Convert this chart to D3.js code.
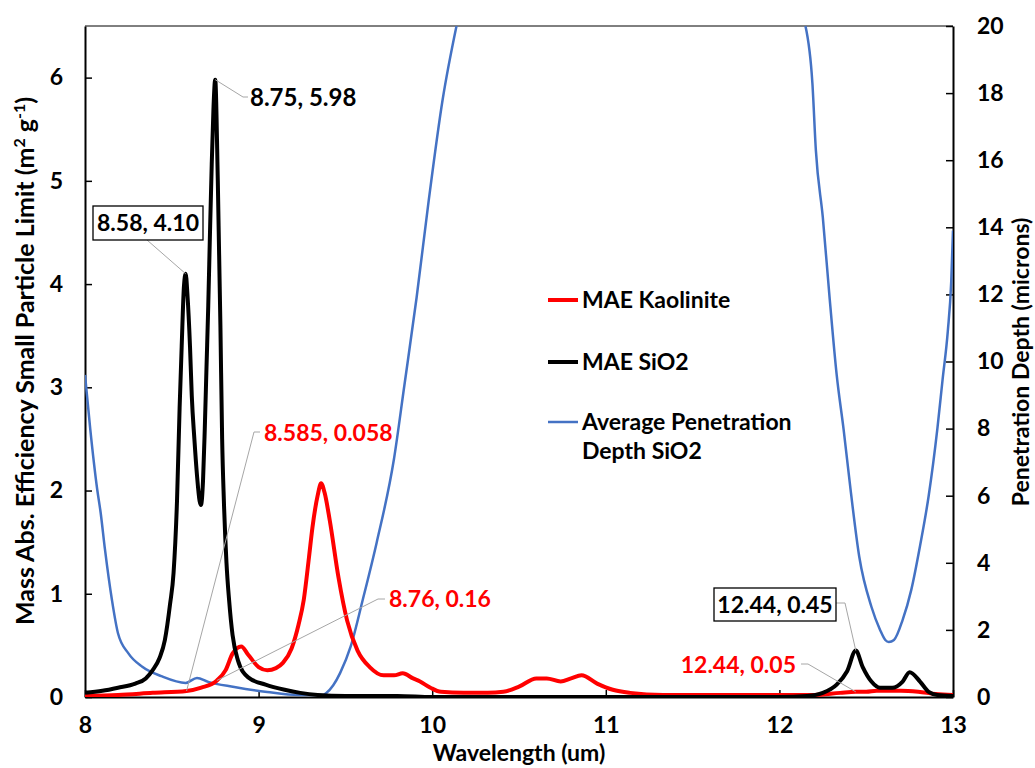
<!DOCTYPE html>
<html>
<head>
<meta charset="utf-8">
<script src="https://cdn.jsdelivr.net/npm/d3@7/dist/d3.min.js"></script>
<style>
  body { margin: 0; background: #fff; }
  svg text { font-family: Lato, "Open Sans", sans-serif; font-weight: bold; }
</style>
</head>
<body>
<svg id="chart" width="1035" height="768"></svg>
<script>
// values (wavelength in um)

// MAE Kaolinite (m2 g-1)
const kaoWl = [8.00, 8.19, 8.39, 8.585, 8.67, 8.76, 8.81, 8.85, 8.90, 8.94, 9.00, 9.05, 9.10, 9.14, 9.19,
  9.23, 9.26, 9.29, 9.31, 9.34, 9.36, 9.38, 9.41, 9.46, 9.51, 9.57, 9.64, 9.72, 9.78, 9.83, 9.89,
  9.93, 9.99, 10.05, 10.18, 10.32, 10.41, 10.50, 10.60, 10.66, 10.74, 10.80, 10.86, 10.95, 11.04,
  11.14, 11.33, 11.60, 12.00, 12.20, 12.35, 12.44, 12.50, 12.56, 12.70, 12.80, 12.90, 13.00];
const kaoMae = [0.01, 0.02, 0.04, 0.058, 0.09, 0.16, 0.26, 0.42, 0.49, 0.41, 0.29, 0.26, 0.28, 0.33, 0.47,
  0.70, 0.94, 1.35, 1.64, 1.95, 2.07, 1.98, 1.71, 1.16, 0.74, 0.45, 0.29, 0.21, 0.21, 0.23, 0.18,
  0.15, 0.09, 0.05, 0.04, 0.04, 0.05, 0.10, 0.18, 0.18, 0.15, 0.18, 0.21, 0.13, 0.07,
  0.04, 0.02, 0.02, 0.02, 0.02, 0.04, 0.05, 0.05, 0.06, 0.06, 0.05, 0.03, 0.02];

// MAE SiO2 (m2 g-1)
const sioWl = [8.00, 8.10, 8.19, 8.29, 8.35, 8.39, 8.43, 8.46, 8.49, 8.51, 8.53, 8.545, 8.557, 8.57, 8.58,
  8.59, 8.605, 8.615, 8.63, 8.645, 8.66, 8.668, 8.68, 8.69, 8.70, 8.71, 8.72, 8.73, 8.74, 8.75,
  8.765, 8.78, 8.79, 8.80, 8.815, 8.83, 8.85, 8.88, 8.94, 9.04, 9.15, 9.24, 9.34, 9.50, 9.80,
  10.00, 11.00, 12.00, 12.16, 12.25, 12.33, 12.39, 12.44, 12.48, 12.53, 12.58, 12.65, 12.71, 12.75,
  12.81, 12.86, 12.91, 13.00];
const sioMae = [0.04, 0.06, 0.09, 0.13, 0.18, 0.26, 0.38, 0.55, 0.90, 1.20, 1.90, 2.80, 3.40, 3.98, 4.10,
  3.90, 3.39, 2.92, 2.50, 2.15, 1.90, 1.86, 2.10, 2.60, 3.20, 3.79, 4.50, 5.16, 5.70, 5.98,
  5.00, 3.60, 2.50, 1.90, 1.30, 0.94, 0.60, 0.36, 0.19, 0.12, 0.07, 0.04, 0.02, 0.01, 0.01,
  0.00, 0.00, 0.00, 0.01, 0.04, 0.12, 0.25, 0.45, 0.29, 0.15, 0.09, 0.09, 0.15, 0.24,
  0.15, 0.05, 0.02, 0.01];

// Average penetration depth SiO2 (microns); null = above the 20 um axis limit
const depWl = [8.00, 8.03, 8.07, 8.09, 8.115, 8.155, 8.19, 8.25, 8.33, 8.44, 8.58, 8.645, 8.71, 8.86, 9.05,
  9.23, 9.30, 9.37, 9.39, 9.43, 9.47, 9.53, 9.60, 9.68, 9.78, 9.84, 9.91, 9.98, 10.06, 10.14,
  11.10,
  12.15, 12.19, 12.21, 12.25, 12.29, 12.33, 12.37, 12.41, 12.46, 12.53, 12.58, 12.61, 12.63, 12.66,
  12.71, 12.76, 12.81, 12.86, 12.91, 12.94, 12.97, 12.99, 13.00];
const depth = [9.6, 8.0, 6.2, 5.5, 4.4, 2.9, 1.9, 1.3, 0.9, 0.62, 0.42, 0.57, 0.45, 0.30, 0.15,
  0.06, 0.06, 0.06, 0.12, 0.35, 0.72, 1.5, 2.9, 4.6, 7.1, 9.3, 11.9, 14.8, 17.8, 20.0,
  null,
  20.0, 18.3, 16.3, 14.3, 11.85, 9.6, 7.97, 6.18, 4.18, 2.69, 2.0, 1.7, 1.64, 1.7,
  2.3, 3.2, 4.5, 6.0, 8.0, 9.46, 10.9, 12.4, 13.9];

const xTicks = [8, 9, 10, 11, 12, 13];
const yTicks = [0, 1, 2, 3, 4, 5, 6];
const y2Ticks = [0, 2, 4, 6, 8, 10, 12, 14, 16, 18, 20];

const seriesNames = ['MAE Kaolinite', 'MAE SiO2', 'Average Penetration|Depth SiO2'];

// ---- layout ----
const plot = { left: 85, right: 953, top: 26, bottom: 697 };
const RED = '#ff0000', BLUE = '#4472c4', GREY = '#a6a6a6';
const FS = '23px';

const svg = d3.select('#chart');

const x = d3.scaleLinear().domain([8, 13]).range([plot.left, plot.right]);
const y = d3.scaleLinear().domain([0, 6.5]).range([plot.bottom, plot.top]);
const y2 = d3.scaleLinear().domain([0, 20]).range([plot.bottom, plot.top]);

svg.append('defs').append('clipPath').attr('id', 'clip')
  .append('rect')
  .attr('x', plot.left).attr('y', plot.top)
  .attr('width', plot.right - plot.left).attr('height', plot.bottom - plot.top);

// frame (top edge)
svg.append('line')
  .attr('x1', plot.left).attr('x2', plot.right)
  .attr('y1', plot.top).attr('y2', plot.top)
  .attr('stroke', '#000').attr('stroke-width', 1);

// axes, tick marks inside
const styleAxis = g => {
  g.select('.domain').attr('stroke', '#000').attr('stroke-width', 2);
  g.selectAll('.tick line').attr('stroke', '#000').attr('stroke-width', 1.5);
  g.selectAll('.tick text').attr('fill', '#000').style('font-size', FS);
};

svg.append('g')
  .attr('transform', `translate(0,${plot.bottom})`)
  .call(d3.axisBottom(x).tickValues(xTicks).tickFormat(d3.format('d'))
    .tickSizeInner(-7).tickSizeOuter(0).tickPadding(20))
  .call(styleAxis);

svg.append('g')
  .attr('transform', `translate(${plot.left},0)`)
  .call(d3.axisLeft(y).tickValues(yTicks).tickFormat(d3.format('d'))
    .tickSizeInner(-7).tickSizeOuter(0).tickPadding(22))
  .call(styleAxis);

svg.append('g')
  .attr('transform', `translate(${plot.right},0)`)
  .call(d3.axisRight(y2).tickValues(y2Ticks).tickFormat(d3.format('d'))
    .tickSizeInner(-7).tickSizeOuter(0).tickPadding(24))
  .call(styleAxis);

// axis titles
svg.append('text')
  .attr('x', (plot.left + plot.right) / 2).attr('y', 761)
  .attr('text-anchor', 'middle').style('font-size', FS)
  .text('Wavelength (um)');

const yTitle = svg.append('text')
  .attr('transform', 'translate(34,361) rotate(-90)')
  .attr('text-anchor', 'middle').style('font-size', '25px');
yTitle.append('tspan').text('Mass Abs. Efficiency Small Particle Limit (m');
yTitle.append('tspan').attr('dy', -9).style('font-size', '16px').text('2');
yTitle.append('tspan').attr('dy', 9).text(' g');
yTitle.append('tspan').attr('dy', -9).style('font-size', '16px').text('-1');
yTitle.append('tspan').attr('dy', 9).text(')');

svg.append('text')
  .attr('transform', 'translate(1029,362) rotate(-90)')
  .attr('text-anchor', 'middle').style('font-size', FS)
  .text('Penetration Depth (microns)');

// series
const series = svg.append('g').attr('clip-path', 'url(#clip)');

const depthLine = d3.line()
  .defined(d => d[1] !== null)
  .curve(d3.curveMonotoneX)
  .x(d => x(d[0])).y(d => y2(d[1]));
const maeLine = d3.line().curve(d3.curveMonotoneX).x(d => x(d[0])).y(d => y(d[1]));

series.append('path')
  .datum(d3.zip(depWl, depth))
  .attr('d', depthLine)
  .attr('fill', 'none').attr('stroke', BLUE).attr('stroke-width', 2.5)
  .attr('stroke-linejoin', 'round');

series.append('path')
  .datum(d3.zip(kaoWl, kaoMae))
  .attr('d', maeLine)
  .attr('fill', 'none').attr('stroke', RED).attr('stroke-width', 4)
  .attr('stroke-linejoin', 'round');

series.append('path')
  .datum(d3.zip(sioWl, sioMae))
  .attr('d', maeLine)
  .attr('fill', 'none').attr('stroke', '#000').attr('stroke-width', 4)
  .attr('stroke-linejoin', 'round');

// data labels with leader lines
const labels = [
  { at: [8.75, 5.98], text: '8.75, 5.98', color: '#000', leader: [[243, 97], [248, 97]], tx: 250, ty: 106, anchor: 'start', fs: '24px' },
  { at: [8.58, 4.10], text: '8.58, 4.10', color: '#000', leader: [[147, 240]], tx: 148, ty: 231, anchor: 'middle', box: [93, 206, 110, 34] },
  { at: [8.585, 0.058], text: '8.585, 0.058', color: RED, leader: [[254, 432], [260, 432]], tx: 264, ty: 441, anchor: 'start' },
  { at: [8.76, 0.16], text: '8.76, 0.16', color: RED, leader: [[378, 599], [385, 599]], tx: 389, ty: 607, anchor: 'start' },
  { at: [12.44, 0.45], text: '12.44, 0.45', color: '#000', leader: [[845, 603], [836, 603]], tx: 775, ty: 613, anchor: 'middle', box: [714, 588, 122, 33] },
  { at: [12.44, 0.05], text: '12.44, 0.05', color: RED, leader: [[808, 664], [801, 664]], tx: 796, ty: 673, anchor: 'end' },
];

const lab = svg.append('g');
labels.forEach(l => {
  const pts = [[x(l.at[0]), y(l.at[1])], ...l.leader];
  lab.append('path')
    .attr('d', d3.line()(pts))
    .attr('fill', 'none').attr('stroke', GREY).attr('stroke-width', 1);
  if (l.box) {
    lab.append('rect')
      .attr('x', l.box[0]).attr('y', l.box[1])
      .attr('width', l.box[2]).attr('height', l.box[3])
      .attr('fill', '#fff').attr('stroke', '#000').attr('stroke-width', 1.3);
  }
  lab.append('text')
    .attr('x', l.tx).attr('y', l.ty)
    .attr('text-anchor', l.anchor)
    .attr('fill', l.color)
    .style('font-size', l.fs || FS)
    .text(l.text);
});

// legend
const legendItems = [
  { name: seriesNames[0], color: RED, width: 4, y: 300 },
  { name: seriesNames[1], color: '#000', width: 4, y: 362 },
  { name: seriesNames[2], color: BLUE, width: 2.5, y: 422 },
];
const legend = svg.append('g');
legendItems.forEach(it => {
  legend.append('line')
    .attr('x1', 548).attr('x2', 578).attr('y1', it.y).attr('y2', it.y)
    .attr('stroke', it.color).attr('stroke-width', it.width);
  const t = legend.append('text').attr('x', 582).attr('y', it.y + 8).style('font-size', FS);
  it.name.split('|').forEach((s, i) => {
    t.append('tspan').attr('x', 582).attr('dy', i ? 29 : 0).text(s);
  });
});
</script>
</body>
</html>
